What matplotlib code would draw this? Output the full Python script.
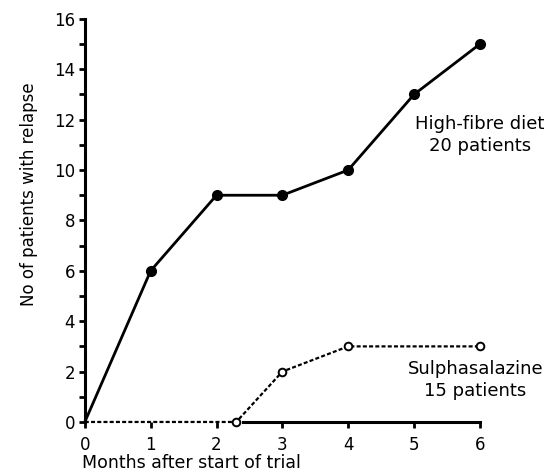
import matplotlib
matplotlib.use("Agg")
import matplotlib.pyplot as plt

months_fibre = [0, 1, 2, 3, 4, 5, 6]
relapse_fibre = [0, 6, 9, 9, 10, 13, 15]

months_sulpha = [0, 2.3, 3, 4, 6]
relapse_sulpha = [0, 0, 2, 3, 3]

xticks = [0, 1, 2, 3, 4, 5, 6]
yticks = [0, 2, 4, 6, 8, 10, 12, 14, 16]

plt.rcParams['font.family'] = ['DejaVu Sans']
fig = plt.figure(figsize=(5.58, 4.72), dpi=100)
ax = fig.add_axes([0.152, 0.106, 0.708, 0.854])

ax.plot(months_fibre, relapse_fibre, color='black', lw=2.0, marker='o',
        markersize=7, markevery=list(range(1, len(months_fibre))), zorder=3)
ax.plot(months_sulpha, relapse_sulpha, color='black', lw=1.6, dashes=(1.8, 1.0),
        marker='o', markersize=5.5, markerfacecolor='white', markeredgewidth=1.4,
        markevery=list(range(1, len(months_sulpha))), zorder=4)

ax.set_xlim(0, 6)
ax.set_ylim(0, 16)
ax.spines['top'].set_visible(False)
ax.spines['right'].set_visible(False)
ax.spines['left'].set_linewidth(2.2)
ax.spines['bottom'].set_linewidth(2.2)
ax.spines['bottom'].set_bounds(2.4, 6)
ax.set_xticks(xticks)
ax.set_yticks(yticks)
ax.set_yticks([1, 3, 5, 7, 9, 11, 13, 15], minor=True)
ax.tick_params(axis='both', which='major', direction='out', length=4, width=2,
               labelsize=12)
ax.tick_params(axis='x', which='major', pad=6)
ax.tick_params(axis='y', which='major', pad=3)
ax.tick_params(axis='y', which='minor', direction='out', length=4, width=2)
ax.set_ylabel('No of patients with relapse', fontsize=12)
ax.yaxis.set_label_coords(-0.118, 0.566)
ax.set_xlabel('Months after start of trial', fontsize=12.5, loc='left')
ax.xaxis.set_label_coords(-0.008, -0.08)
ax.xaxis.label.set_ha('left')
ax.xaxis.label.set_va('top')

ax.text(6.0, 11.4, 'High-fibre diet\n20 patients', ha='center', va='center',
        fontsize=13, linespacing=1.25)
ax.text(5.93, 1.67, 'Sulphasalazine\n15 patients', ha='center', va='center',
        fontsize=13, linespacing=1.25)

for sp in ax.spines.values():
    sp.set_clip_on(False)
ax.patch.set_visible(False)
for line in ax.lines:
    line.set_clip_on(False)

fig.savefig('out.png', dpi=100)
